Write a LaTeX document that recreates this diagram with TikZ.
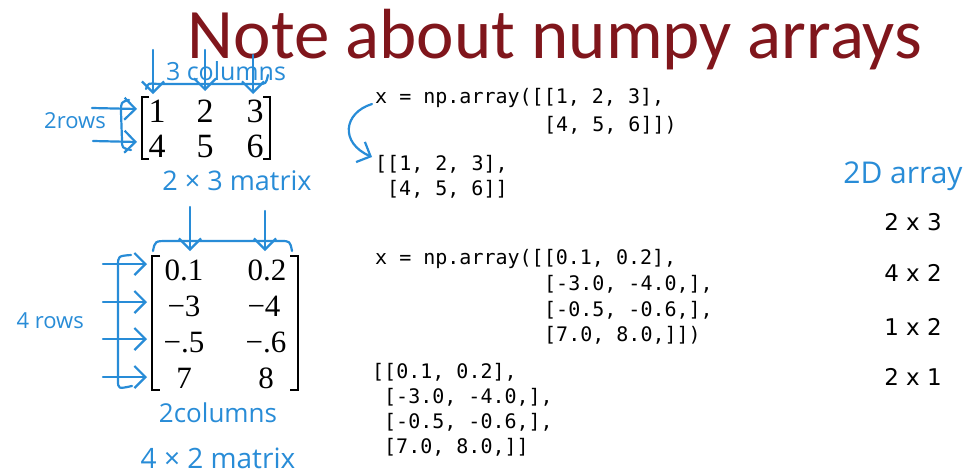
\documentclass[tikz,border=0pt]{standalone}
\usepackage{fontspec}
\setmonofont{DejaVu Sans Mono}
\newfontfamily\titlefont{Carlito}
\newfontfamily\handfont{Open Sans}
\newfontfamily\dimfont{DejaVu Sans}
\newfontfamily\matfont{Liberation Serif}
\usetikzlibrary{arrows.meta}
\definecolor{titlered}{RGB}{128,22,28}
\definecolor{penblue}{RGB}{40,140,215}
\tikzset{
  pen/.style={draw=penblue, line width=2.2pt, line cap=round, line join=round},
  penarrow/.style={pen, -{Straight Barb[length=11pt,width=22pt]}},
  handtext/.style={text=penblue, inner sep=0pt, anchor=base, font=\handfont\fontsize{#1}{#1}\selectfont},
  codeline/.style={inner sep=0pt, anchor=base west, font=\ttfamily\fontsize{20}{24}\selectfont},
  entryA/.style={inner sep=0pt, anchor=base, font=\matfont\fontsize{34}{40}\selectfont},
  entryB/.style={inner sep=0pt, anchor=base, font=\matfont\fontsize{31}{37}\selectfont},
  bracket/.style={draw=black, line width=1.8pt},
  dimtext/.style={inner sep=0pt, anchor=base, font=\dimfont\fontsize{23}{28}\selectfont},
}
\begin{document}
\begin{tikzpicture}[x=1pt,y=-1pt]
\useasboundingbox (0,0) rectangle (970,474);
\fill[white] (0,0) rectangle (970,474);

% title
\node[inner sep=0pt, anchor=base, text=titlered, font=\titlefont\fontsize{71}{80}\selectfont]
  (title) at (555,58) {Note about numpy arrays};

% ---------- 2 x 3 matrix ----------
\node[entryA] (a11) at (157,122) {1};
\node[entryA] (a12) at (205,122) {2};
\node[entryA] (a13) at (255,122) {3};
\node[entryA] (a21) at (157,157) {4};
\node[entryA] (a22) at (205,157) {5};
\node[entryA] (a23) at (255,157) {6};
\draw[bracket] (149,97) -- (142,97) -- (142,159) -- (149,159);
\draw[bracket] (263,97) -- (270,97) -- (270,159) -- (263,159);

% column arrows and brace
\coordinate (ta1) at (153,50);
\coordinate (ta2) at (205,50);
\coordinate (ta3) at (253,55);
\coordinate (ha1) at (153,94);
\coordinate (ha2) at (205,91);
\coordinate (ha3) at (253,94);
\draw[penarrow] (ta1) -- (ha1);
\draw[penarrow] (ta2) -- (ha2);
\draw[penarrow] (ta3) -- (ha3);
\draw[pen] (146,89) .. controls (148,83) .. (158,84) -- (258,84) .. controls (266,84) .. (268,75);
\node[handtext=25] (cols1) at (226,80) {3 columns};

% row arrows and brace
\coordinate (sa1) at (92,108);
\coordinate (sa2) at (93,141);
\coordinate (ea1) at (137,109);
\coordinate (ea2) at (137,142);
\draw[penarrow] (sa1) -- (ea1);
\draw[penarrow] (sa2) -- (ea2);
\draw[pen] (129,100) .. controls (121,102) .. (121,112) -- (122,140) .. controls (122,148) .. (131,150);
\node[handtext=22, anchor=base east] (rows1) at (106,128) {2rows};
\node[handtext=27] (dim1) at (237,190) {2 × 3 matrix};

% ---------- 4 x 2 matrix ----------
\node[entryB] (b11) at (184,280) {0.1};
\node[entryB] (b12) at (267,280) {0.2};
\node[entryB] (b21) at (184,316) {−3};
\node[entryB] (b22) at (264,316) {−4};
\node[entryB] (b31) at (184,352) {−.5};
\node[entryB] (b32) at (266,352) {−.6};
\node[entryB] (b41) at (184,388) {7};
\node[entryB] (b42) at (266,388) {8};
\draw[bracket] (160,256) -- (152,256) -- (152,390) -- (160,390);
\draw[bracket] (290,256) -- (298,256) -- (298,390) -- (290,390);

% column arrows and brace
\coordinate (tb1) at (190,207);
\coordinate (tb2) at (265,211);
\coordinate (hb1) at (190,251);
\coordinate (hb2) at (265,251);
\draw[penarrow] (tb1) -- (hb1);
\draw[penarrow] (tb2) -- (hb2);
\draw[pen] (153,251) .. controls (155,241) .. (168,241) -- (280,241) .. controls (290,241) .. (292,251);
\node[handtext=26] (cols2) at (218,422) {2columns};

% row arrows and brace
\foreach \r/\yy in {1/264,2/302,3/339,4/377}{
  \coordinate (sb\r) at (103,\yy);
  \coordinate (eb\r) at (147,\yy);
  \draw[penarrow] (sb\r) -- (eb\r);
}
\draw[pen] (131,255) .. controls (118,256) .. (118,266) -- (118,380) .. controls (118,389) .. (132,386);
\node[handtext=22, anchor=base east] (rows2) at (84,328) {4 rows};
\node[handtext=28] (dim2) at (218,468) {4 × 2 matrix};

% ---------- code ----------
\node[codeline] (c1a) at (375,103) {x = np.array([[1, 2, 3],};
\node[codeline] (c1b) at (544,131) {[4, 5, 6]])};
\node[codeline] (o1a) at (375,170) {[[1, 2, 3],};
\node[codeline] (o1b) at (387,195) {[4, 5, 6]]};
\draw[penarrow] (372,104) .. controls (343,113) and (340,143) .. (372,157);

\node[codeline] (c2a) at (375,264) {x = np.array([[0.1, 0.2],};
\node[codeline] (c2b) at (544,290) {[-3.0, -4.0,],};
\node[codeline] (c2c) at (544,316) {[-0.5, -0.6,],};
\node[codeline] (c2d) at (544,341) {[7.0, 8.0,]])};
\node[codeline] (o2a) at (372,378) {[[0.1, 0.2],};
\node[codeline] (o2b) at (384,403) {[-3.0, -4.0,],};
\node[codeline] (o2c) at (384,428) {[-0.5, -0.6,],};
\node[codeline] (o2d) at (384,453) {[7.0, 8.0,]]};

% ---------- shapes column ----------
\node[handtext=30] (arr) at (903,183) {2D array};
\node[dimtext] (s1) at (913,230) {2 x 3};
\node[dimtext] (s2) at (913,281) {4 x 2};
\node[dimtext] (s3) at (913,335) {1 x 2};
\node[dimtext] (s4) at (913,385) {2 x 1};
\end{tikzpicture}
\end{document}
